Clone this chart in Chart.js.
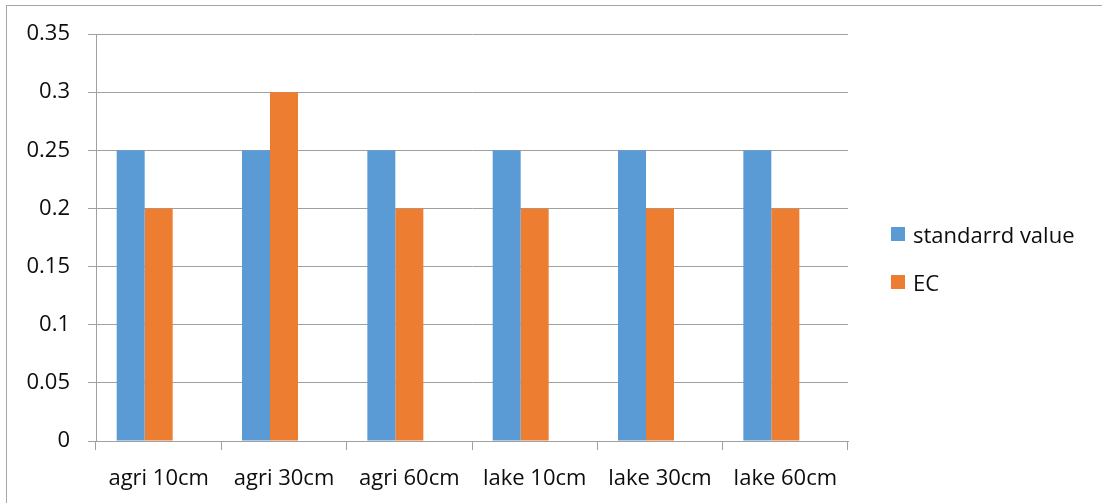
<!DOCTYPE html>
<html>
<head>
<meta charset="utf-8">
<script src="https://cdn.jsdelivr.net/npm/chart.js@4/dist/chart.umd.min.js"></script>
<style>
  html, body { margin: 0; padding: 0; background: #fff; overflow: hidden; }
  #wrap { position: relative; width: 1102px; height: 503px; overflow: hidden; }
  #frame { position: absolute; left: 6px; top: 5px; width: 1300px; height: 700px;
           border-top: 1px solid #a6a6a6; border-left: 1px solid #a6a6a6; }
  #chart { position: absolute; left: 0; top: 0; }
  #legend { position: absolute; left: 891px; top: 210px; font-family: 'Open Sans', sans-serif;
            font-size: 22px; color: #0d0d0d; }
  #legend .item { display: flex; align-items: center; height: 48px; white-space: nowrap; }
  #legend .swatch { width: 14px; height: 14px; margin-right: 8px; }
</style>
</head>
<body>
<div id="wrap">
  <div id="frame"></div>
  <canvas id="chart" width="1102" height="503"></canvas>
  <div id="legend"></div>
</div>
<script>
// Sampling sites / depths
const categories = ['agri 10cm', 'agri 30cm', 'agri 60cm', 'lake 10cm', 'lake 30cm', 'lake 60cm'];
// Reference (standard) value and measured EC per site
const standardValues = [0.25, 0.25, 0.25, 0.25, 0.25, 0.25];
const ecValues = [0.2, 0.3, 0.2, 0.2, 0.2, 0.2];
// Third series slot in the workbook, left blank
const blankSeries = [null, null, null, null, null, null];
// Value-axis ticks
const yTicks = [0, 0.05, 0.1, 0.15, 0.2, 0.25, 0.3, 0.35];

const seriesNames = ['standarrd value', 'EC'];
const seriesColors = ['#5B9BD5', '#ED7D31'];
const axisGray = '#a0a0a0';
const textColor = '#0d0d0d';

Chart.defaults.font.family = "'Open Sans', sans-serif";
Chart.defaults.font.size = 22;
Chart.defaults.color = textColor;

const chart = new Chart(document.getElementById('chart'), {
  type: 'bar',
  data: {
    labels: categories,
    datasets: [
      { label: seriesNames[0], data: standardValues, backgroundColor: seriesColors[0] },
      { label: seriesNames[1], data: ecValues, backgroundColor: seriesColors[1] },
      { label: '', data: blankSeries, backgroundColor: 'rgba(0,0,0,0)' }
    ]
  },
  options: {
    responsive: false,
    animation: false,
    layout: { padding: { left: 0, top: 34, right: 254, bottom: 0 } },
    datasets: { bar: { categoryPercentage: 0.67, barPercentage: 1.0 } },
    plugins: {
      legend: { display: false },
      tooltip: { enabled: false }
    },
    scales: {
      x: {
        offset: true,
        grid: { display: true, offset: true, drawOnChartArea: false, drawTicks: true,
                tickLength: 9, color: axisGray, lineWidth: 1 },
        border: { display: true, color: axisGray, width: 1 },
        ticks: { padding: 16, maxRotation: 0, autoSkip: false, color: textColor },
        afterFit(scale) { scale.height = 62; }
      },
      y: {
        min: 0,
        max: 0.35,
        grid: { color: axisGray, lineWidth: 1, drawTicks: true, tickLength: 8 },
        border: { display: true, color: axisGray, width: 1 },
        ticks: {
          padding: 18,
          color: textColor,
          callback: (v) => String(Number(v.toFixed(2)))
        },
        afterBuildTicks(scale) { scale.ticks = yTicks.map(v => ({ value: v })); },
        afterFit(scale) { scale.width = 96; }
      }
    }
  }
});

// Legend for the two named series
const legendEl = document.getElementById('legend');
seriesNames.forEach((name, i) => {
  const item = document.createElement('div');
  item.className = 'item';
  const sw = document.createElement('span');
  sw.className = 'swatch';
  sw.style.background = seriesColors[i];
  const tx = document.createElement('span');
  tx.textContent = name;
  item.appendChild(sw);
  item.appendChild(tx);
  legendEl.appendChild(item);
});
</script>
</body>
</html>
